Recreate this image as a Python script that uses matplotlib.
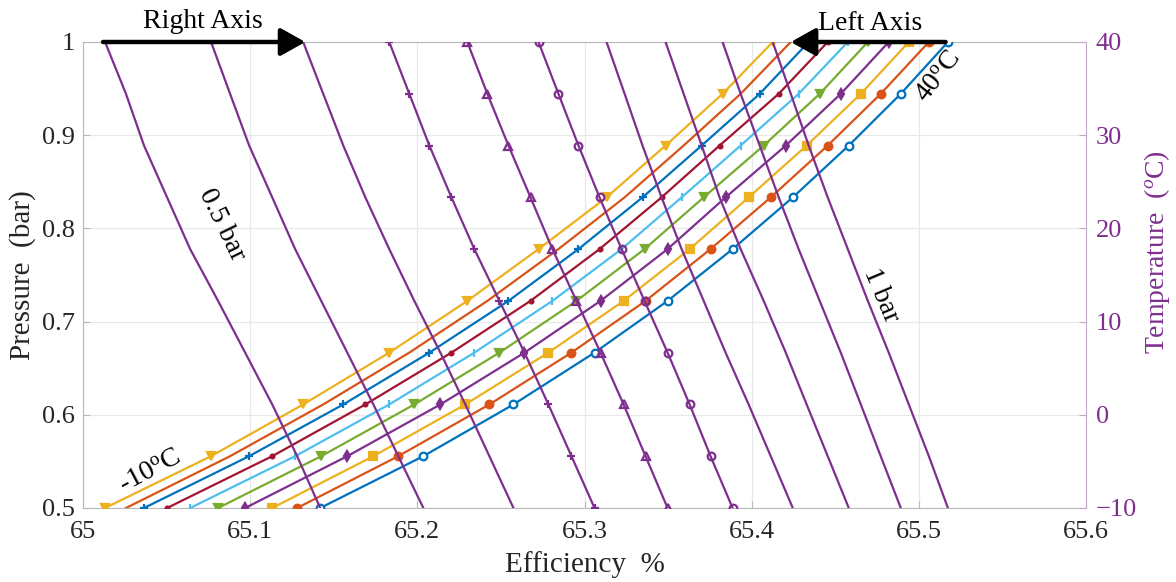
import matplotlib
matplotlib.use('Agg')
import matplotlib.pyplot as plt
from matplotlib.ticker import FormatStrFormatter

plt.rcParams['font.family'] = ['Liberation Serif', 'DejaVu Serif']
plt.rcParams['mathtext.fontset'] = 'custom'
plt.rcParams['mathtext.rm'] = 'Liberation Serif'
plt.rcParams['mathtext.it'] = 'Liberation Serif:italic'

# left axis: pressure levels, right axis: temperature levels (same grid rows)
pressures = [0.5, 0.5556, 0.6111, 0.6667, 0.7222, 0.7778, 0.8333, 0.8889, 0.9444, 1.0]
temperatures = [-10, -4.44, 1.11, 6.67, 12.22, 17.78, 23.33, 28.89, 34.44, 40]

# efficiency (%), one row per pressure, one column per temperature curve
effByPressure = [
    [65.1419, 65.1281, 65.1132, 65.0970, 65.0808, 65.0641, 65.0503, 65.0365, 65.0257, 65.0132],
    [65.2036, 65.1886, 65.1737, 65.1581, 65.1425, 65.1269, 65.1132, 65.0994, 65.0880, 65.0766],
    [65.2575, 65.2431, 65.2287, 65.2138, 65.1982, 65.1832, 65.1689, 65.1557, 65.1437, 65.1317],
    [65.3060, 65.2922, 65.2784, 65.2641, 65.2491, 65.2341, 65.2204, 65.2072, 65.1952, 65.1832],
    [65.3497, 65.3365, 65.3234, 65.3096, 65.2952, 65.2808, 65.2677, 65.2545, 65.2419, 65.2299],
    [65.3886, 65.3754, 65.3629, 65.3497, 65.3359, 65.3222, 65.3090, 65.2964, 65.2844, 65.2725],
    [65.4246, 65.4114, 65.3982, 65.3844, 65.3713, 65.3581, 65.3461, 65.3347, 65.3240, 65.3132],
    [65.4581, 65.4455, 65.4329, 65.4204, 65.4072, 65.3934, 65.3808, 65.3701, 65.3593, 65.3485],
    [65.4892, 65.4772, 65.4653, 65.4533, 65.4407, 65.4281, 65.4162, 65.4048, 65.3934, 65.3826],
    [65.5174, 65.5060, 65.4940, 65.4820, 65.4695, 65.4575, 65.4455, 65.4341, 65.4234, 65.4126],
]

xTicks = [65, 65.1, 65.2, 65.3, 65.4, 65.5, 65.6]
pTicks = [0.5, 0.6, 0.7, 0.8, 0.9, 1.0]
tTicks = [-10, 0, 10, 20, 30, 40]

mlab = ['#0072BD', '#D95319', '#EDB120', '#7E2F8E', '#77AC30', '#4DBEEE', '#A2142F']
purple = '#7E2F8E'
tMarkers = ['o', 'o', 's', 'd', 'v', '|', '.', '+', '', 'v']
tFilled = [False, True, True, True, True, True, True, True, True, True]
pMarkers = ['', '', '', '+', '^', 'o', '', '', '', '']

fig = plt.figure(figsize=(11.76, 5.82), dpi=100)
ax = fig.add_axes([83 / 1176, 1 - 508 / 582, 1003 / 1176, 466 / 582])
ax2 = ax.twinx()

# temperature curves on the left (pressure) axis
for k in range(len(temperatures)):
    c = mlab[k % len(mlab)]
    xs = [row[k] for row in effByPressure]
    ax.plot(xs, pressures, color=c, lw=1.6, marker=tMarkers[k] or None, ms=5.5,
            mew=1.6, mfc=c if tFilled[k] else 'white', mec=c, zorder=3)

# pressure curves on the right (temperature) axis
for i in range(len(pressures)):
    ax2.plot(effByPressure[i], temperatures, color=purple, lw=1.6,
             marker=pMarkers[i] or None, ms=5.5, mew=1.6, mfc='none', mec=purple)

ax.set_xlim(65, 65.6)
ax.set_ylim(0.5, 1)
ax2.set_ylim(-10, 40)
ax.set_xticks(xTicks)
ax.set_yticks(pTicks)
ax2.set_yticks(tTicks)
ax.xaxis.set_major_formatter(FormatStrFormatter('%g'))
ax.yaxis.set_major_formatter(FormatStrFormatter('%g'))
ax.grid(True, color='#e8e8e8', lw=0.9)
ax.set_axisbelow(True)

for s in ['left', 'bottom', 'top']:
    ax.spines[s].set_color('#b8b8b8')
ax2.spines['right'].set_color('#c3a9c9')
for s in ['left', 'bottom', 'top']:
    ax2.spines[s].set_visible(False)
ax.spines['right'].set_visible(False)

ax.tick_params(axis='both', direction='in', length=5, color='#b8b8b8',
               labelsize=19, labelcolor='#262626')
ax.tick_params(axis='x', pad=9)
ax.tick_params(axis='y', pad=6)
ax2.tick_params(axis='y', direction='in', length=5, color='#c3a9c9',
                labelsize=19, labelcolor=purple, pad=7)

ax.set_xlabel('Efficiency  %', fontsize=21, color='#262626', labelpad=6)
ax.set_ylabel('Pressure  (bar)', fontsize=21, color='#262626', labelpad=4)
ax2.set_ylabel('Temperature  ($^o$C)', fontsize=20, color=purple)
ax2.yaxis.set_label_coords(1.056, 0.55)

# axis pointers
for x0, x1 in [(65.012, 65.133), (65.516, 65.4234)]:
    ax2.annotate('', xy=(x1, 1.0), xytext=(x0, 1.0),
                 xycoords=ax.transData, textcoords=ax.transData, annotation_clip=False,
                 arrowprops=dict(arrowstyle='-|>,head_length=0.75,head_width=0.42',
                                 mutation_scale=20, color='black', lw=3.2,
                                 shrinkA=0, shrinkB=0))
fig.text(203 / 1176, 1 - 22 / 582, 'Right Axis', fontsize=20, ha='center', va='center')
fig.text(870 / 1176, 1 - 23 / 582, 'Left Axis', fontsize=20, ha='center', va='center')

ax2.text(65.0832, 0.8036, '0.5 bar', transform=ax.transData, fontsize=20,
         rotation=-64, ha='center', va='center')
ax2.text(65.4772, 0.7285, '1 bar', transform=ax.transData, fontsize=20,
         rotation=-67, ha='center', va='center')
ax2.text(65.0401, 0.5386, '-10$^{\\mathrm{o}}$C', transform=ax.transData, fontsize=20,
         rotation=28, ha='center', va='center')
ax2.text(65.512, 0.9624, '40$^{\\mathrm{o}}$C', transform=ax.transData, fontsize=20,
         rotation=52, ha='center', va='center')

fig.savefig('out.png', dpi=100)
